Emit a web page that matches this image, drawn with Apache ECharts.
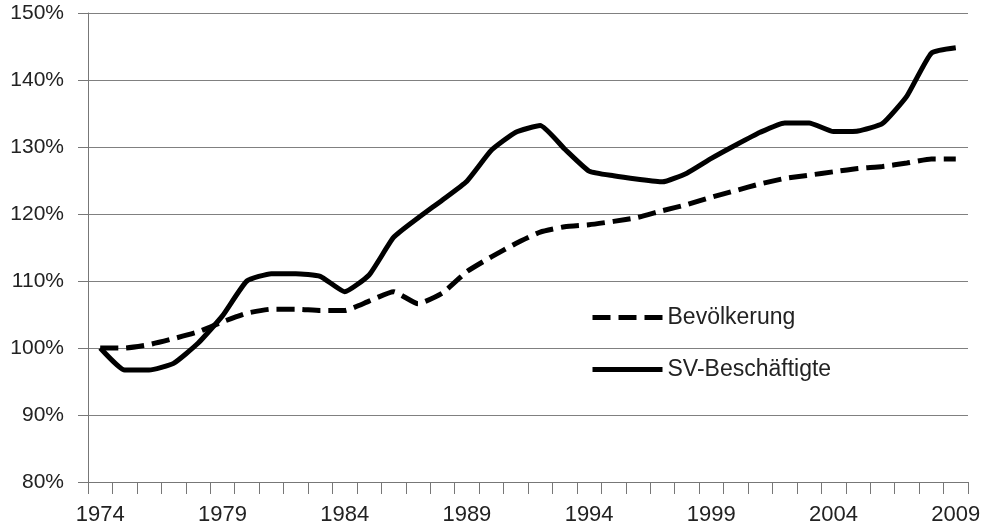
<!DOCTYPE html>
<html>
<head>
    <meta charset="utf-8">
    <title>Bevölkerung / SV-Beschäftigte</title>
    <script src="https://cdn.jsdelivr.net/npm/echarts@6/dist/echarts.min.js"></script>
    <style>
        html, body { margin: 0; padding: 0; background: #fff; }
    </style>
</head>
<body>
    <div id="main" style="width: 991px;height: 530px;"></div>
    <script type="text/javascript">
        // Jahre 1974 - 2009
        var years = [];
        for (var y = 1974; y <= 2009; y++) {
            years.push(String(y));
        }

        // Index 1974 = 100%
        var bevoelkerung = [
            100.0, 100.0, 100.5, 101.4, 102.4, 103.9, 105.2, 105.8, 105.8, 105.6,
            105.6, 107.0, 108.4, 106.6, 108.2, 111.4, 113.6, 115.6, 117.3, 118.1,
            118.4, 118.9, 119.5, 120.5, 121.4, 122.5, 123.5, 124.5, 125.3, 125.8,
            126.3, 126.8, 127.1, 127.6, 128.2, 128.2
        ];

        var svBeschaeftigte = [
            100.0, 96.7, 96.7, 97.7, 100.7, 104.8, 110.0, 111.1, 111.1, 110.7,
            108.4, 110.9, 116.5, 119.4, 122.1, 124.9, 129.5, 132.2, 133.2, 129.7,
            126.4, 125.7, 125.2, 124.8, 126.1, 128.3, 130.3, 132.2, 133.6, 133.6,
            132.3, 132.4, 133.5, 137.6, 144.0, 144.8
        ];

        var myChart = echarts.init(document.getElementById('main'));

        var option = {
            backgroundColor: '#fff',
            animation: false,
            grid: {
                left: 88,
                right: 23,
                top: 13,
                bottom: 48
            },
            legend: {
                orient: 'vertical',
                left: 585,
                top: 301,
                itemWidth: 70,
                itemHeight: 14,
                itemGap: 29,
                itemStyle: { opacity: 0 },
                lineStyle: { width: 5 },
                textStyle: {
                    fontFamily: 'Liberation Sans',
                    fontSize: 23,
                    color: '#222'
                },
                data: ['Bevölkerung', 'SV-Beschäftigte']
            },
            xAxis: {
                type: 'category',
                data: years,
                boundaryGap: true,
                axisLine: { lineStyle: { color: '#777', width: 1 } },
                axisTick: { show: true, length: 12, interval: 0, lineStyle: { color: '#777' } },
                axisLabel: {
                    interval: 4,
                    margin: 22,
                    fontFamily: 'Liberation Sans',
                    fontSize: 22,
                    color: '#222'
                },
                splitLine: { show: false }
            },
            yAxis: {
                type: 'value',
                min: 80,
                max: 150,
                interval: 10,
                axisLine: { show: true, lineStyle: { color: '#777', width: 1 } },
                axisTick: { show: true, length: 10, lineStyle: { color: '#777' } },
                axisLabel: {
                    formatter: '{value}%',
                    margin: 24,
                    fontFamily: 'Liberation Sans',
                    fontSize: 21,
                    color: '#222'
                },
                splitLine: { lineStyle: { color: '#808080', width: 1 } }
            },
            series: [
                {
                    name: 'Bevölkerung',
                    type: 'line',
                    data: bevoelkerung,
                    symbol: 'none',
                    smooth: 0.15,
                    lineStyle: { color: '#000', width: 5, type: [18, 8] },
                    itemStyle: { color: '#000' },
                    z: 3
                },
                {
                    name: 'SV-Beschäftigte',
                    type: 'line',
                    data: svBeschaeftigte,
                    symbol: 'none',
                    smooth: 0.15,
                    lineStyle: { color: '#000', width: 5 },
                    itemStyle: { color: '#000' },
                    z: 4
                }
            ]
        };

        myChart.setOption(option);
        window.onresize = myChart.resize;
    </script>
</body>
</html>
